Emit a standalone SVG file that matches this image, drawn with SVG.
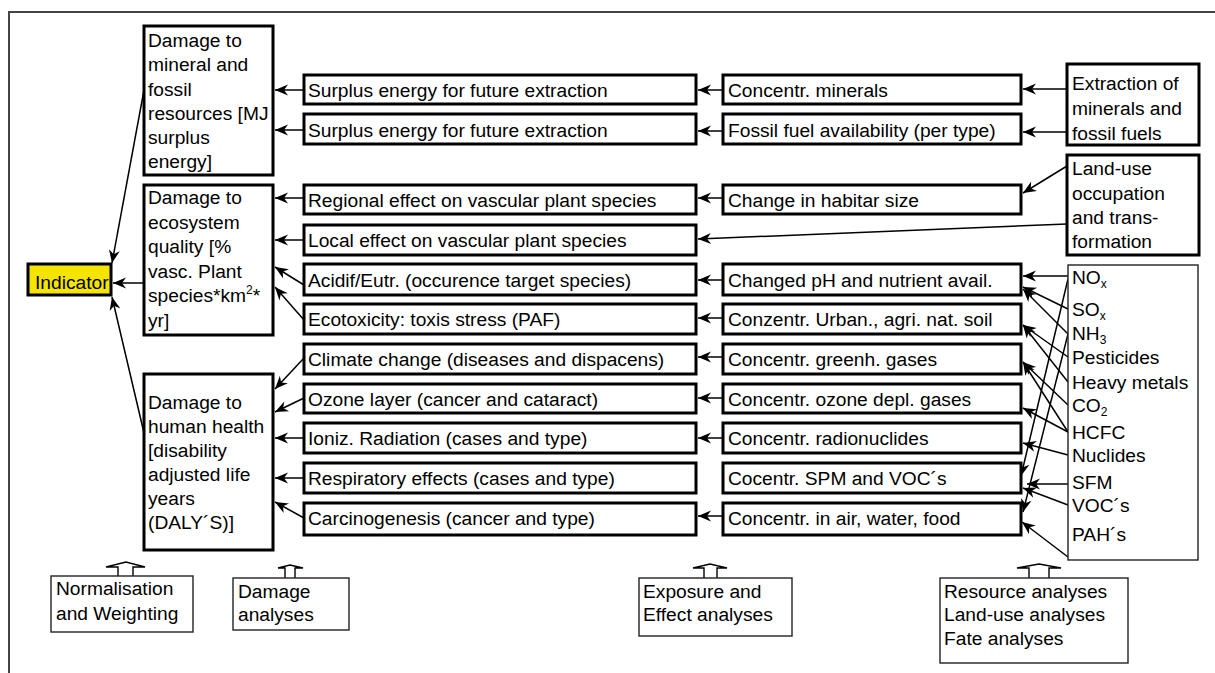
<svg xmlns="http://www.w3.org/2000/svg" width="1215" height="673" viewBox="0 0 1215 673">
<style>
.t{font-family:"Liberation Sans",Arial,sans-serif;font-size:19.2px;fill:#000}
.bx{fill:#fff;stroke:#000;stroke-width:3}
.thin{fill:#fff;stroke:#222;stroke-width:1.4}
.c{stroke:#000;stroke-width:1.5;fill:none;marker-end:url(#ah)}
.up{fill:#fff;stroke:#000;stroke-width:1.4}
.sub{font-size:12px}
</style>
<defs>
<marker id="ah" markerUnits="userSpaceOnUse" markerWidth="16" markerHeight="14" viewBox="-14 -7 16 14" refX="0" refY="0" orient="auto">
<path d="M0,0 L-13,-5.5 L-9,0 L-13,5.5 Z" fill="#000"/>
</marker>
</defs>
<rect width="1215" height="673" fill="#fff"/>
<path d="M9,673 V12 H1215" fill="none" stroke="#444" stroke-width="2"/>

<g id="connectors">
<line class="c" x1="144" y1="90" x2="112" y2="263"/>
<line class="c" x1="144" y1="283" x2="113" y2="283"/>
<line class="c" x1="144" y1="433" x2="112" y2="297"/>
<line class="c" x1="304" y1="90" x2="275" y2="90"/>
<line class="c" x1="304" y1="130" x2="275" y2="130"/>
<line class="c" x1="304" y1="198" x2="275" y2="198"/>
<line class="c" x1="304" y1="240" x2="275" y2="240"/>
<line class="c" x1="304" y1="285" x2="275" y2="267"/>
<line class="c" x1="304" y1="320" x2="275" y2="287"/>
<line class="c" x1="304" y1="358" x2="275" y2="389"/>
<line class="c" x1="304" y1="398" x2="275" y2="412"/>
<line class="c" x1="304" y1="438" x2="275" y2="438"/>
<line class="c" x1="304" y1="478" x2="275" y2="478"/>
<line class="c" x1="304" y1="518" x2="275" y2="502"/>
<line class="c" x1="723" y1="90" x2="698" y2="90"/>
<line class="c" x1="723" y1="131" x2="698" y2="131"/>
<line class="c" x1="723" y1="198" x2="698" y2="198"/>
<line class="c" x1="1067" y1="224" x2="698" y2="239"/>
<line class="c" x1="723" y1="280" x2="698" y2="280"/>
<line class="c" x1="723" y1="318" x2="698" y2="318"/>
<line class="c" x1="723" y1="357" x2="698" y2="357"/>
<line class="c" x1="723" y1="398" x2="698" y2="398"/>
<line class="c" x1="723" y1="438" x2="698" y2="438"/>
<line class="c" x1="723" y1="516" x2="698" y2="516"/>
<line class="c" x1="1067" y1="89" x2="1023" y2="89"/>
<line class="c" x1="1067" y1="132" x2="1023" y2="132"/>
<line class="c" x1="1067" y1="166" x2="1023" y2="193"/>
<line class="c" x1="1068" y1="276" x2="1023" y2="276"/>
<line class="c" x1="1068" y1="309" x2="1023" y2="287"/>
<line class="c" x1="1068" y1="334" x2="1023" y2="289"/>
<line class="c" x1="1068" y1="357" x2="1023" y2="325"/>
<line class="c" x1="1068" y1="382" x2="1023" y2="325"/>
<line class="c" x1="1068" y1="405" x2="1023" y2="362"/>
<line class="c" x1="1068" y1="432" x2="1023" y2="362"/>
<line class="c" x1="1068" y1="432" x2="1023" y2="408"/>
<line class="c" x1="1068" y1="455" x2="1023" y2="443"/>
<line class="c" x1="1068" y1="484" x2="1027" y2="484"/>
<line class="c" x1="1068" y1="505" x2="1023" y2="488"/>
<line class="c" x1="1068" y1="557" x2="1022" y2="522"/>
<line class="c" x1="1068" y1="279" x2="1021" y2="476"/>
<line class="c" x1="1068" y1="334" x2="1023" y2="512"/>
</g>

<g id="n-indicator">
<rect x="28" y="264" width="83" height="31" fill="#f5e400" stroke="#000" stroke-width="3"/>
<text class="t" x="35" y="289">Indicator</text>
</g>

<g id="n-dmg-mineral">
<rect class="bx" x="144" y="26" width="129" height="149"/>
<text class="t" x="148" y="47">Damage to</text>
<text class="t" x="148" y="71">mineral and</text>
<text class="t" x="148" y="95.5">fossil</text>
<text class="t" x="148" y="119.5">resources [MJ</text>
<text class="t" x="148" y="144">surplus</text>
<text class="t" x="148" y="168">energy]</text>
</g>

<g id="n-dmg-eco">
<rect class="bx" x="144" y="185" width="129" height="150"/>
<text class="t" x="148" y="204">Damage to</text>
<text class="t" x="148" y="228.5">ecosystem</text>
<text class="t" x="148" y="253">quality [%</text>
<text class="t" x="148" y="277.5">vasc. Plant</text>
<text class="t" x="148" y="302">species*km<tspan class="sub" dy="-8">2</tspan><tspan dy="8">*</tspan></text>
<text class="t" x="148" y="326.5">yr]</text>
</g>

<g id="n-dmg-human">
<rect class="bx" x="144" y="374" width="129" height="176"/>
<text class="t" x="148" y="409">Damage to</text>
<text class="t" x="148" y="433">human health</text>
<text class="t" x="148" y="457">[disability</text>
<text class="t" x="148" y="481">adjusted life</text>
<text class="t" x="148" y="505">years</text>
<text class="t" x="148" y="529">(DALY´S)]</text>
</g>

<g id="n-c2-1"><rect class="bx" x="304" y="75" width="392" height="29"/><text class="t" x="308" y="97">Surplus energy for future extraction</text></g>
<g id="n-c2-2"><rect class="bx" x="304" y="114" width="392" height="30"/><text class="t" x="308" y="137">Surplus energy for future extraction</text></g>
<g id="n-c2-3"><rect class="bx" x="304" y="185" width="392" height="29"/><text class="t" x="308" y="207">Regional effect on vascular plant species</text></g>
<g id="n-c2-4"><rect class="bx" x="304" y="225" width="392" height="30"/><text class="t" x="308" y="247">Local effect on vascular plant species</text></g>
<g id="n-c2-5"><rect class="bx" x="304" y="264" width="392" height="31"/><text class="t" x="308" y="287">Acidif/Eutr. (occurence target species)</text></g>
<g id="n-c2-6"><rect class="bx" x="304" y="304" width="392" height="30"/><text class="t" x="308" y="326">Ecotoxicity: toxis stress (PAF)</text></g>
<g id="n-c2-7"><rect class="bx" x="304" y="344" width="392" height="30"/><text class="t" x="308" y="366">Climate change (diseases and dispacens)</text></g>
<g id="n-c2-8"><rect class="bx" x="304" y="384" width="392" height="29"/><text class="t" x="308" y="406">Ozone layer (cancer and cataract)</text></g>
<g id="n-c2-9"><rect class="bx" x="304" y="423" width="392" height="30"/><text class="t" x="308" y="445">Ioniz. Radiation (cases and type)</text></g>
<g id="n-c2-10"><rect class="bx" x="304" y="463" width="392" height="30"/><text class="t" x="308" y="485">Respiratory effects (cases and type)</text></g>
<g id="n-c2-11"><rect class="bx" x="304" y="503" width="392" height="32"/><text class="t" x="308" y="525">Carcinogenesis (cancer and type)</text></g>

<g id="n-c3-1"><rect class="bx" x="723" y="75" width="298" height="29"/><text class="t" x="728" y="97">Concentr. minerals</text></g>
<g id="n-c3-2"><rect class="bx" x="723" y="114" width="298" height="30"/><text class="t" x="728" y="137">Fossil fuel availability (per type)</text></g>
<g id="n-c3-3"><rect class="bx" x="723" y="185" width="298" height="29"/><text class="t" x="728" y="207">Change in habitar size</text></g>
<g id="n-c3-5"><rect class="bx" x="723" y="264" width="298" height="31"/><text class="t" x="728" y="287">Changed pH and nutrient avail.</text></g>
<g id="n-c3-6"><rect class="bx" x="723" y="304" width="298" height="30"/><text class="t" x="728" y="326">Conzentr. Urban., agri. nat. soil</text></g>
<g id="n-c3-7"><rect class="bx" x="723" y="344" width="298" height="30"/><text class="t" x="728" y="366">Concentr. greenh. gases</text></g>
<g id="n-c3-8"><rect class="bx" x="723" y="384" width="298" height="29"/><text class="t" x="728" y="406">Concentr. ozone depl. gases</text></g>
<g id="n-c3-9"><rect class="bx" x="723" y="423" width="298" height="30"/><text class="t" x="728" y="445">Concentr. radionuclides</text></g>
<g id="n-c3-10"><rect class="bx" x="723" y="463" width="298" height="30"/><text class="t" x="728" y="485">Cocentr. SPM and VOC´s</text></g>
<g id="n-c3-11"><rect class="bx" x="723" y="503" width="298" height="32"/><text class="t" x="728" y="525">Concentr. in air, water, food</text></g>

<g id="n-extraction">
<rect class="bx" x="1067" y="64" width="132" height="81"/>
<text class="t" x="1072" y="90">Extraction of</text>
<text class="t" x="1072" y="115">minerals and</text>
<text class="t" x="1072" y="140">fossil fuels</text>
</g>

<g id="n-landuse">
<rect class="bx" x="1067" y="155" width="132" height="100"/>
<text class="t" x="1072" y="175">Land-use</text>
<text class="t" x="1072" y="200">occupation</text>
<text class="t" x="1072" y="224">and trans-</text>
<text class="t" x="1072" y="248">formation</text>
</g>

<g id="n-emissions">
<rect class="thin" x="1068" y="265" width="130" height="295"/>
<text class="t" x="1072" y="284">NO<tspan class="sub" dy="4">x</tspan></text>
<text class="t" x="1072" y="316">SO<tspan class="sub" dy="4">x</tspan></text>
<text class="t" x="1072" y="340">NH<tspan class="sub" dy="4">3</tspan></text>
<text class="t" x="1072" y="364">Pesticides</text>
<text class="t" x="1072" y="389">Heavy metals</text>
<text class="t" x="1072" y="412">CO<tspan class="sub" dy="4">2</tspan></text>
<text class="t" x="1072" y="439">HCFC</text>
<text class="t" x="1072" y="462">Nuclides</text>
<text class="t" x="1072" y="489">SFM</text>
<text class="t" x="1072" y="512">VOC´s</text>
<text class="t" x="1072" y="541">PAH´s</text>
</g>

<g id="n-norm">
<path class="up" d="M118,576 V567 H106 L126,562 L145,567 H133 V576"/>
<rect class="thin" x="51" y="576" width="142" height="56"/>
<text class="t" x="56" y="595">Normalisation</text>
<text class="t" x="56" y="620">and Weighting</text>
</g>

<g id="n-damage-an">
<path class="up" d="M285,578 V568 H278 L290,565 L303,568 H295 V578"/>
<rect class="thin" x="233" y="578" width="116" height="52"/>
<text class="t" x="238" y="598">Damage</text>
<text class="t" x="238" y="621">analyses</text>
</g>

<g id="n-exposure">
<path class="up" d="M704,578 V568 H693 L710,564 L727,568 H717 V578"/>
<rect class="thin" x="639" y="578" width="153" height="58"/>
<text class="t" x="643" y="598">Exposure and</text>
<text class="t" x="643" y="621">Effect analyses</text>
</g>

<g id="n-resource">
<path class="up" d="M1029,578 V568 H1017 L1039,564 L1061,568 H1049 V578"/>
<rect class="thin" x="940" y="578" width="188" height="85"/>
<text class="t" x="944" y="598">Resource analyses</text>
<text class="t" x="944" y="621">Land-use analyses</text>
<text class="t" x="944" y="645">Fate analyses</text>
</g>
</svg>
